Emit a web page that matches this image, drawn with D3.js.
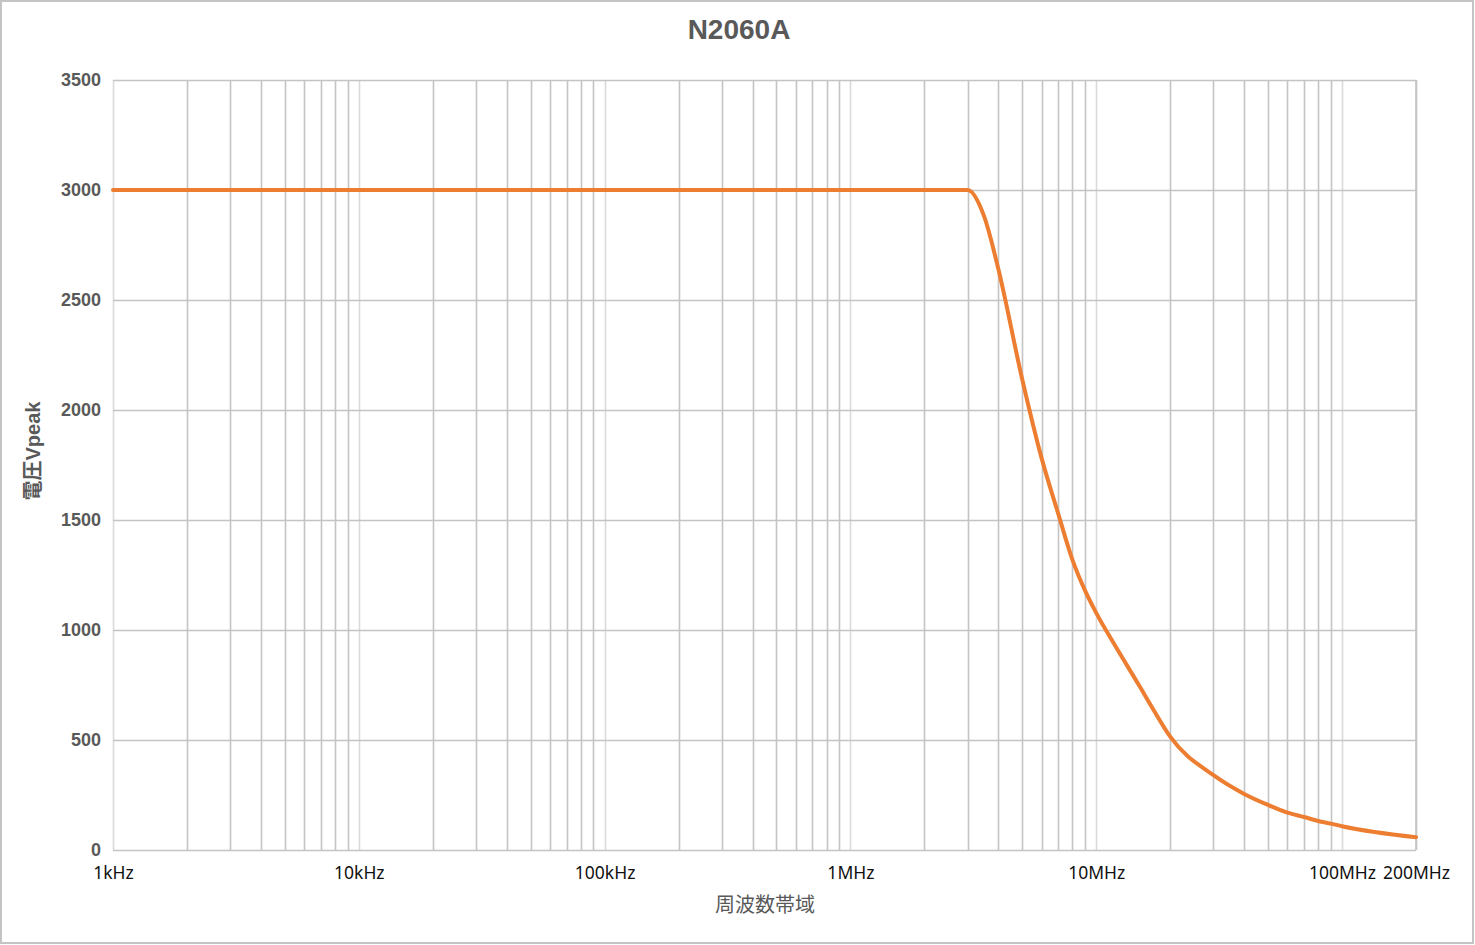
<!DOCTYPE html>
<html>
<head>
<meta charset="utf-8">
<script src="https://cdn.jsdelivr.net/npm/d3@7/dist/d3.min.js"></script>
<style>
  html, body { margin: 0; padding: 0; background: #fff; }
  svg { display: block; }
</style>
</head>
<body>
<svg id="chart" width="1475" height="945"></svg>
<script>
// ---- data ----
const chartTitle = "N2060A";
const xAxisTitle = "周波数帯域";
const yAxisTitle = "電圧Vpeak";
const frequencies = [1e3, 1e4, 1e5, 1e6, 2e6, 3e6, 3.5e6, 4e6, 5e6, 6e6, 7e6, 8e6, 9e6, 1e7, 1.2e7, 1.5e7, 1.7e7, 2e7, 3e7, 4e7, 5e7, 6e7, 7e7, 8e7, 9e7, 1e8, 2e8];
const voltages    = [3000, 3000, 3000, 3000, 3000, 3000, 2880, 2640, 2140, 1780, 1530, 1320, 1180, 1078, 925, 745, 642, 515, 340, 255, 205, 170, 150, 132, 120, 108, 58];
const xTickValues = [1e3, 1e4, 1e5, 1e6, 1e7, 1e8, 2e8];
const xTickLabels = ["1kHz", "10kHz", "100kHz", "1MHz", "10MHz", "100MHz", "200MHz"];
const yTickValues = [0, 500, 1000, 1500, 2000, 2500, 3000, 3500];

(function () {
// ---- layout ----
const svg = d3.select("#chart");
const pLeft = 113, pRight = 1416, pTop = 80, pBottom = 850;

svg.append("rect").attr("x", 1).attr("y", 1).attr("width", 1472).attr("height", 942)
  .attr("fill", "#fff").attr("stroke", "#c4c4c4").attr("stroke-width", 2);

const x = d3.scaleLog().domain([1e3, 2e8]).range([pLeft, pRight]);
const y = d3.scaleLinear().domain([0, 3500]).range([pBottom, pTop]);

// vertical grid (minor darker, decade lighter)
const gx = svg.append("g");
x.ticks().forEach(t => {
  const isDecade = Math.abs(Math.log10(t) - Math.round(Math.log10(t))) < 1e-9;
  gx.append("line")
    .attr("x1", Math.round(x(t)) + 0.5).attr("x2", Math.round(x(t)) + 0.5)
    .attr("y1", pTop).attr("y2", pBottom)
    .attr("stroke", isDecade ? "#dadada" : "#c4c4c4")
    .attr("stroke-width", 1.6);
});
gx.append("line").attr("x1", x(2e8)).attr("x2", x(2e8)).attr("y1", pTop).attr("y2", pBottom)
  .attr("stroke", "#c4c4c4").attr("stroke-width", 1.6);

// horizontal grid
const gy = svg.append("g");
yTickValues.forEach(v => {
  gy.append("line").attr("x1", pLeft).attr("x2", pRight)
    .attr("y1", Math.round(y(v)) + 0.5).attr("y2", Math.round(y(v)) + 0.5)
    .attr("stroke", "#c4c4c4").attr("stroke-width", 1.6);
});

// y axis labels
const yAxis = d3.axisLeft(y).tickValues(yTickValues).tickFormat(d3.format("d"))
  .tickSize(0).tickPadding(12);
const yg = svg.append("g").attr("transform", `translate(${pLeft},0)`).call(yAxis);
yg.select(".domain").remove();
yg.selectAll("text")
  .attr("font-family", "'Liberation Sans', Arial, sans-serif")
  .attr("font-size", 18).attr("font-weight", "bold").attr("fill", "#595959");

// x axis labels
const xAxis = d3.axisBottom(x).tickValues(xTickValues)
  .tickFormat((d, i) => xTickLabels[i]).tickSize(0).tickPadding(17);
const xg = svg.append("g").attr("transform", `translate(0,${pBottom})`).call(xAxis);
xg.select(".domain").remove();
xg.selectAll("text")
  .attr("font-family", "'Noto Sans', 'Open Sans', sans-serif")
  .attr("font-size", 17.5).attr("fill", "#111");

// line
const data = frequencies.map((f, i) => ({ f, v: voltages[i] }));
const line = d3.line().x(d => x(d.f)).y(d => y(d.v)).curve(d3.curveMonotoneX);
svg.append("path").datum(data).attr("d", line)
  .attr("fill", "none").attr("stroke", "#ED7D31").attr("stroke-width", 4)
  .attr("stroke-linejoin", "round").attr("stroke-linecap", "round");

// title
svg.append("text").attr("x", 739).attr("y", 39).attr("text-anchor", "middle")
  .attr("font-family", "'Liberation Sans', Arial, sans-serif")
  .attr("font-size", 28).attr("font-weight", "bold").attr("fill", "#595959")
  .text(chartTitle);

// x axis title
svg.append("text").attr("x", 765).attr("y", 912).attr("text-anchor", "middle")
  .attr("font-family", "'Noto Sans CJK JP', sans-serif")
  .attr("font-size", 20).attr("fill", "#595959")
  .text(xAxisTitle);

// y axis title
svg.append("text")
  .attr("transform", "translate(40,451) rotate(-90)")
  .attr("text-anchor", "middle")
  .attr("font-family", "'Liberation Sans', Arial, 'Noto Sans CJK JP', sans-serif")
  .attr("font-size", 20).attr("font-weight", "bold").attr("fill", "#595959")
  .text(yAxisTitle);
})();
</script>
</body>
</html>
